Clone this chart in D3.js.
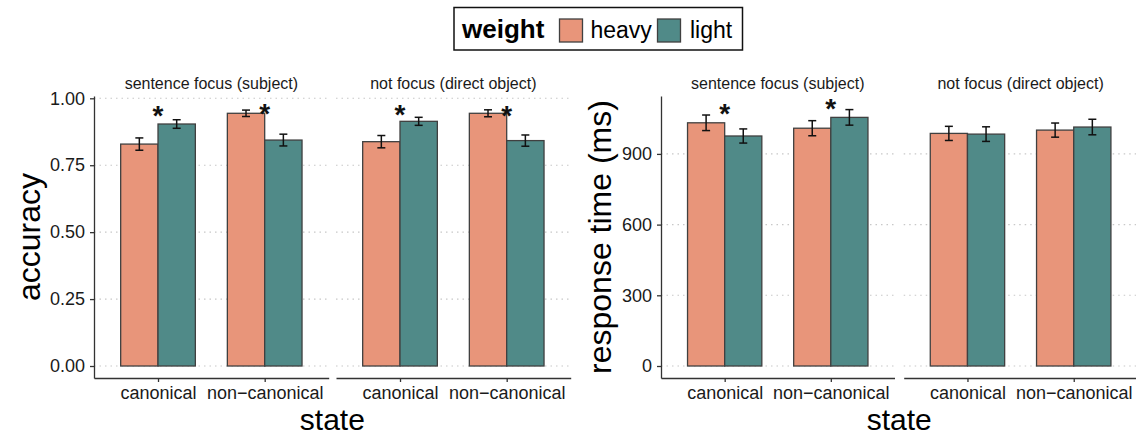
<!DOCTYPE html>
<html><head><meta charset="utf-8">
<script src="https://cdn.jsdelivr.net/npm/d3@7"></script>
<style>
body{margin:0;background:#fff}
svg text{font-family:"Liberation Sans",Arial,sans-serif}
</style>
</head><body>
<svg id="c" width="1136" height="436"></svg>
<script>
// ---------- data ----------
const categories = ["canonical", "non\u2212canonical"];
const facets = ["sentence focus (subject)", "not focus (direct object)"];
const weights = ["heavy", "light"];
const accTicks = [0, 0.25, 0.5, 0.75, 1];
const accTickLabels = ["0.00", "0.25", "0.50", "0.75", "1.00"];
const rtTicks = [0, 300, 600, 900];
const rtTickLabels = ["0", "300", "600", "900"];
// indexed [facet][category]
const accHeavy   = [[0.829, 0.944], [0.838, 0.944]];
const accLight   = [[0.904, 0.844], [0.914, 0.842]];
const accHeavySE = [[0.023, 0.012], [0.023, 0.013]];
const accLightSE = [[0.016, 0.022], [0.015, 0.021]];
const accStarY   = [[0.956, 0.964], [0.960, 0.956]];
const rtHeavy    = [[1032, 1009], [987, 1001]];
const rtLight    = [[976, 1055], [984, 1014]];
const rtHeavySE  = [[33, 32], [30, 30]];
const rtLightSE  = [[30, 33], [31, 33]];
const rtStarY    = [[1096, 1115], [null, null]];

const colors = {heavy: "#E8957A", light: "#508A88"};

const svg = d3.select("#c");

function drawPlot(cfg) {
  const y = d3.scaleLinear().domain(cfg.yDomain).range([378, 96]);
  const g = svg.append("g");

  cfg.panels.forEach((pr, fi) => {
    const x = d3.scalePoint().domain(categories).range(pr).padding(0.6);
    const step = x.step();
    const dodge = d3.scaleBand().domain(weights).range([-0.35 * step, 0.35 * step]).paddingInner(0);
    const pg = g.append("g");

    // gridlines
    pg.selectAll("line.grid").data(cfg.ticks).join("line")
      .attr("x1", pr[0]).attr("x2", pr[1])
      .attr("y1", d => y(d)).attr("y2", d => y(d))
      .attr("stroke", "#c8c8c8").attr("stroke-width", 1.1)
      .attr("stroke-dasharray", "1.5,4");

    // bars
    const rows = [];
    categories.forEach((c, ci) => {
      weights.forEach(w => {
        const m = w === "heavy" ? cfg.heavy[fi][ci] : cfg.light[fi][ci];
        const se = w === "heavy" ? cfg.heavySE[fi][ci] : cfg.lightSE[fi][ci];
        rows.push({c, w, m, se});
      });
    });
    pg.selectAll("rect.bar").data(rows).join("rect")
      .attr("x", d => x(d.c) + dodge(d.w))
      .attr("width", dodge.bandwidth())
      .attr("y", d => y(d.m))
      .attr("height", d => y(0) - y(d.m))
      .attr("fill", d => colors[d.w])
      .attr("stroke", "#404040").attr("stroke-width", 1.3);

    // error bars
    const cap = 4;
    const eb = pg.selectAll("g.eb").data(rows).join("g")
      .attr("transform", d => `translate(${x(d.c) + dodge(d.w) + dodge.bandwidth() / 2},0)`);
    eb.append("line").attr("x1", 0).attr("x2", 0)
      .attr("y1", d => y(d.m - d.se)).attr("y2", d => y(d.m + d.se))
      .attr("stroke", "#111").attr("stroke-width", 1.5);
    eb.append("line").attr("x1", -cap).attr("x2", cap)
      .attr("y1", d => y(d.m - d.se)).attr("y2", d => y(d.m - d.se))
      .attr("stroke", "#111").attr("stroke-width", 1.5);
    eb.append("line").attr("x1", -cap).attr("x2", cap)
      .attr("y1", d => y(d.m + d.se)).attr("y2", d => y(d.m + d.se))
      .attr("stroke", "#111").attr("stroke-width", 1.5);

    // significance stars
    const stars = categories.map((c, ci) => ({c, v: cfg.starY[fi][ci]})).filter(d => d.v !== null);
    pg.selectAll("text.star").data(stars).join("text")
      .attr("x", d => x(d.c))
      .attr("y", d => y(d.v) + 15)
      .attr("text-anchor", "middle")
      .attr("font-size", 28).attr("font-weight", "bold")
      .attr("fill", "#111")
      .text("*");

    // strip label
    pg.append("text")
      .attr("x", (pr[0] + pr[1]) / 2).attr("y", 89)
      .attr("text-anchor", "middle").attr("font-size", 16).attr("fill", "#1a1a1a")
      .text(facets[fi]);

    // x axis
    const xa = pg.append("g").attr("transform", "translate(0,378)")
      .call(d3.axisBottom(x).tickSize(4).tickSizeOuter(0).tickPadding(4));
    xa.select(".domain").attr("stroke", "#333").attr("stroke-width", 1.3);
    xa.selectAll(".tick line").attr("stroke", "#333").attr("stroke-width", 1.3);
    xa.selectAll(".tick text").attr("font-size", 18).attr("fill", "#1a1a1a")
      .style("font-family", '"Liberation Sans",Arial,sans-serif');
  });

  // y axis
  const ya = g.append("g").attr("transform", `translate(${cfg.panels[0][0]},0)`)
    .call(d3.axisLeft(y).tickValues(cfg.ticks).tickFormat((d, i) => cfg.tickLabels[i])
      .tickSize(4).tickSizeOuter(0).tickPadding(5));
  ya.select(".domain").attr("stroke", "#333").attr("stroke-width", 1.3);
  ya.selectAll(".tick line").attr("stroke", "#333").attr("stroke-width", 1.3);
  ya.selectAll(".tick text").attr("font-size", 18).attr("fill", "#1a1a1a")
    .style("font-family", '"Liberation Sans",Arial,sans-serif');

  // axis titles
  g.append("text")
    .attr("transform", `translate(${cfg.yTitleX},237) rotate(-90)`)
    .attr("text-anchor", "middle").attr("font-size", 32).attr("fill", "#000")
    .text(cfg.yTitle);
  g.append("text")
    .attr("x", (cfg.panels[0][0] + cfg.panels[1][1]) / 2).attr("y", 429.5)
    .attr("text-anchor", "middle").attr("font-size", 30).attr("fill", "#000")
    .text("state");
}

drawPlot({
  panels: [[94, 328.7], [336, 570.7]],
  yDomain: [-0.0448, 1.0086],
  ticks: accTicks, tickLabels: accTickLabels,
  heavy: accHeavy, light: accLight, heavySE: accHeavySE, lightSE: accLightSE,
  starY: accStarY, yTitle: "accuracy", yTitleX: 40
});
drawPlot({
  panels: [[661, 894.5], [903.7, 1137.5]],
  yDomain: [-50.9, 1145.7],
  ticks: rtTicks, tickLabels: rtTickLabels,
  heavy: rtHeavy, light: rtLight, heavySE: rtHeavySE, lightSE: rtLightSE,
  starY: rtStarY, yTitle: "response time (ms)", yTitleX: 611
});

// legend
const lg = svg.append("g");
lg.append("rect").attr("x", 454).attr("y", 7.5).attr("width", 288.5).attr("height", 42.5)
  .attr("fill", "#fff").attr("stroke", "#111").attr("stroke-width", 1.5);
lg.append("text").attr("x", 462).attr("y", 38).attr("font-size", 26).attr("font-weight", "bold")
  .attr("fill", "#000").text("weight");
const keyX = {heavy: 559.5, light: 657.5};
const labX = {heavy: 590.5, light: 690};
weights.forEach(w => {
  lg.append("rect").attr("x", keyX[w]).attr("y", 19).attr("width", 23).attr("height", 23)
    .attr("fill", colors[w]).attr("stroke", "#404040").attr("stroke-width", 1.3);
  lg.append("text").attr("x", labX[w]).attr("y", 38).attr("font-size", 23).attr("fill", "#000").text(w);
});
</script>
</body></html>
